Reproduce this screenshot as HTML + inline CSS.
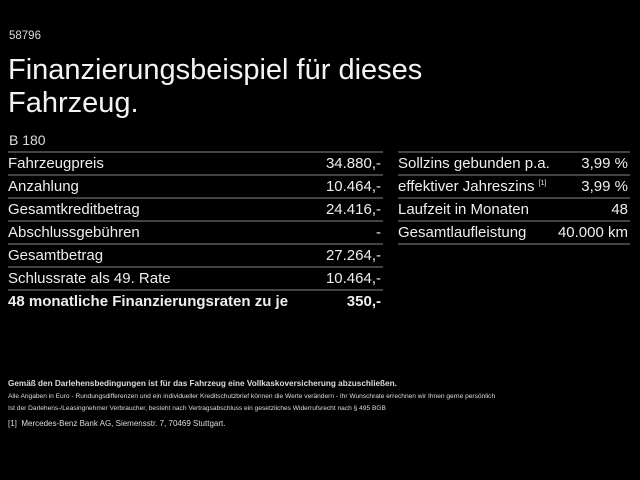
<!DOCTYPE html>
<html><head><meta charset="utf-8"><style>
body{margin:0;width:640px;height:480px;background:#000;color:#fff;font-family:"Liberation Sans",Arial,sans-serif;position:relative;overflow:hidden}
.a{position:absolute;white-space:nowrap}
.t{font-size:29px;line-height:33px;left:8px;top:54px;color:#f4f4f4}
.tb{position:absolute;border-top:2px solid #444}
.r{position:absolute;height:23px;border-bottom:2px solid #444;box-sizing:border-box;font-size:15px;line-height:21px;color:#eee}
.r span{position:absolute;right:2px;top:0}
.r sup{font-size:7px;line-height:0;vertical-align:6px}
.f{color:#ddd;left:8px}
</style></head><body>
<div class="a" style="left:9px;top:30px;font-size:11.5px;color:#ddd">58796</div>
<div class="a t">Finanzierungsbeispiel für dieses<br>Fahrzeug.</div>
<div class="a" style="left:9px;top:132px;font-size:14px;color:#ddd">B 180</div>
<div class="tb" style="left:8px;top:151px;width:375px"></div>
<div class="r" style="left:8px;top:153px;width:375px">Fahrzeugpreis<span>34.880,-</span></div>
<div class="r" style="left:8px;top:176px;width:375px">Anzahlung<span>10.464,-</span></div>
<div class="r" style="left:8px;top:199px;width:375px">Gesamtkreditbetrag<span>24.416,-</span></div>
<div class="r" style="left:8px;top:222px;width:375px">Abschlussgebühren<span>-</span></div>
<div class="r" style="left:8px;top:245px;width:375px">Gesamtbetrag<span>27.264,-</span></div>
<div class="r" style="left:8px;top:268px;width:375px">Schlussrate als 49. Rate<span>10.464,-</span></div>
<div class="r" style="left:8px;top:291px;width:375px;border:none;font-weight:bold">48 monatliche Finanzierungsraten zu je<span>350,-</span></div>
<div class="tb" style="left:398px;top:151px;width:232px"></div>
<div class="r" style="left:398px;top:153px;width:232px">Sollzins gebunden p.a.<span>3,99 %</span></div>
<div class="r" style="left:398px;top:176px;width:232px">effektiver Jahreszins <sup>[1]</sup><span>3,99 %</span></div>
<div class="r" style="left:398px;top:199px;width:232px">Laufzeit in Monaten<span>48</span></div>
<div class="r" style="left:398px;top:222px;width:232px">Gesamtlaufleistung<span>40.000 km</span></div>
<div class="a f" style="top:379px;font-weight:bold;font-size:8.2px">Gemäß den Darlehensbedingungen ist für das Fahrzeug eine Vollkaskoversicherung abzuschließen.</div>
<div class="a f" style="top:393px;font-size:6.6px">Alle Angaben in Euro - Rundungsdifferenzen und ein individueller Kreditschutzbrief können die Werte verändern - Ihr Wunschrate errechnen wir Ihnen gerne persönlich</div>
<div class="a f" style="top:405px;font-size:6.6px">Ist der Darlehens-/Leasingnehmer Verbraucher, besteht nach Vertragsabschluss ein gesetzliches Widerrufsrecht nach § 495 BGB</div>
<div class="a f" style="top:419px;font-size:8px">[1]&nbsp; Mercedes-Benz Bank AG, Siemensstr. 7, 70469 Stuttgart.</div>
</body></html>
